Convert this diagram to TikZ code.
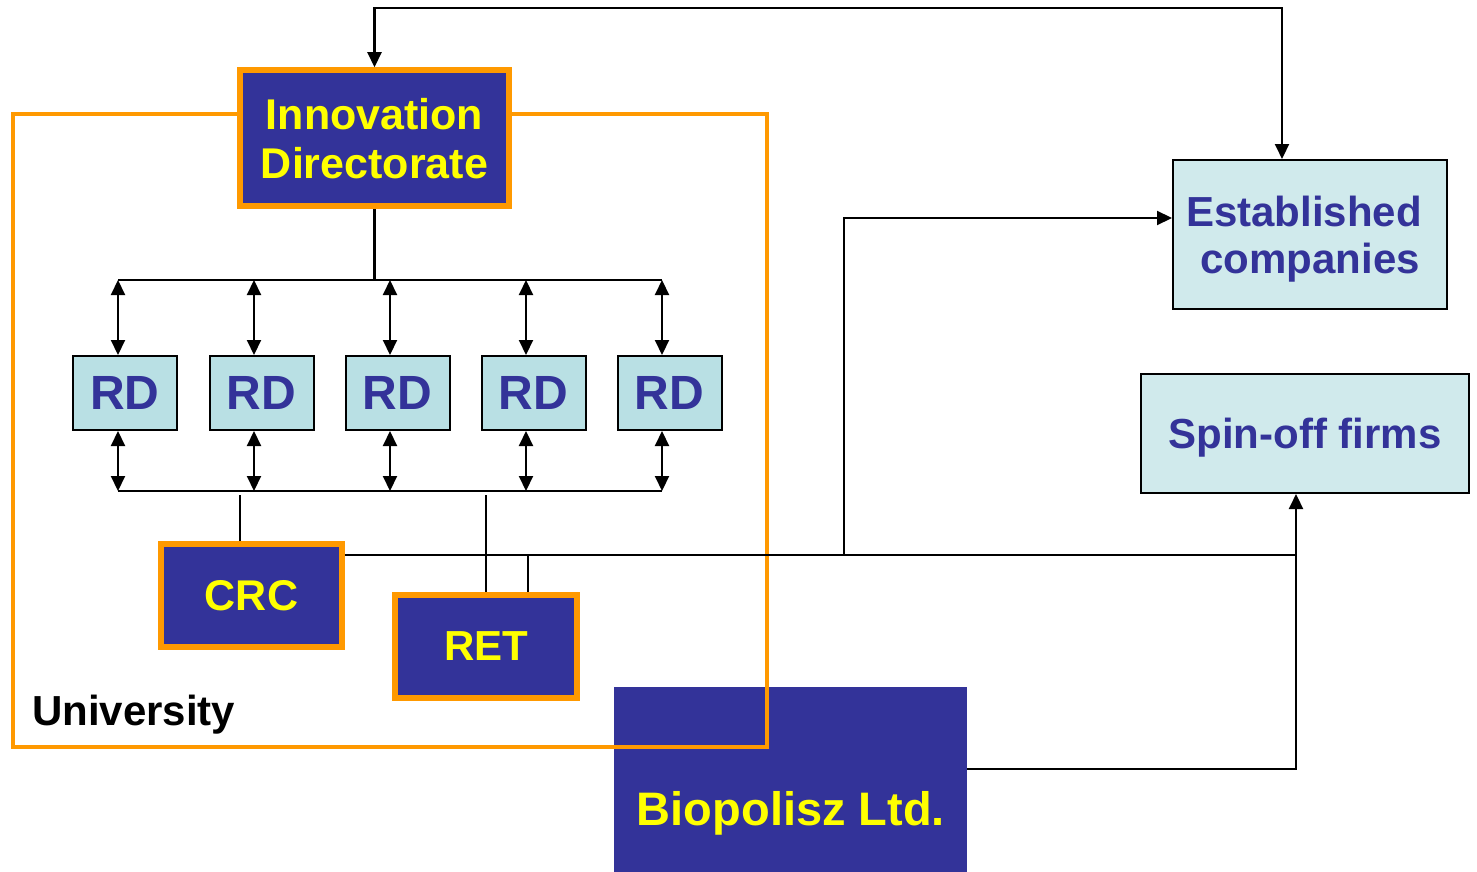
\documentclass[tikz,border=0pt]{standalone}
\usepackage{fontspec}
\setmainfont{Liberation Sans}
\usetikzlibrary{arrows.meta}
\definecolor{navy}{RGB}{51,51,153}
\definecolor{ora}{RGB}{255,153,0}
\definecolor{ylw}{RGB}{255,255,0}
\definecolor{rdfill}{RGB}{185,224,228}
\definecolor{cofill}{RGB}{208,234,236}
\begin{document}
\begin{tikzpicture}[x=1pt,y=-1pt,
  obox/.style={draw=ora, line width=5.5pt, fill=navy, text=ylw, align=center, inner sep=0pt, text depth=0pt},
  rdbox/.style={draw=black, line width=2pt, fill=rdfill, text=navy, font=\bfseries\fontsize{48}{52}\selectfont, minimum width=104pt, minimum height=74pt, inner sep=0pt},
  cobox/.style={draw=black, line width=2pt, fill=cofill, text=navy, font=\bfseries\fontsize{42}{47}\selectfont, align=center, inner sep=0pt, text depth=0pt},
  conn/.style={line width=2.1pt},
  arr/.style={conn, -{Triangle[length=15pt,width=14pt]}},
  darr/.style={conn, {Triangle[length=15pt,width=14pt]}-{Triangle[length=15pt,width=14pt]}},
]
\useasboundingbox (0,0) rectangle (1477,872);
% Biopolisz
\node[fill=navy, minimum width=353pt, minimum height=185pt, inner sep=0pt] (bio) at (790.5,779.5) {};
\node[anchor=base, text=ylw, font=\bfseries\fontsize{47}{52}\selectfont, inner sep=0pt] (biot) at (791,825) {Biopolisz Ltd.};
% University frame
\node[draw=ora, line width=4pt, minimum width=754pt, minimum height=632pt, inner sep=0pt] (univ) at (389.5,430.5) {};
\node[anchor=base west, font=\bfseries\fontsize{42}{48}\selectfont, inner sep=0pt] (unit) at (32,725) {University};
% orange boxes
\node[obox, font=\bfseries\fontsize{43}{49}\selectfont, minimum width=269pt, minimum height=136pt] (id) at (374.5,138) {Innovation\\Directorate};
\node[obox, font=\bfseries\fontsize{43}{49}\selectfont, minimum width=181pt, minimum height=103pt] (crc) at (251.5,595.5) {CRC};
\node[obox, font=\bfseries\fontsize{42}{49}\selectfont, minimum width=182pt, minimum height=103pt] (ret) at (486,646.5) {RET};
% RD boxes
\node[rdbox] (rd1) at (125,393) {RD};
\node[rdbox] (rd2) at (261.5,393) {RD};
\node[rdbox] (rd3) at (397.5,393) {RD};
\node[rdbox] (rd4) at (533.5,393) {RD};
\node[rdbox] (rd5) at (669.5,393) {RD};
% companies
\node[cobox, minimum width=274pt, minimum height=149pt] (est) at (1310,234.5) {Established\kern12pt\\companies};
\node[cobox, minimum width=328pt, minimum height=119pt] (spin) at (1305,433.5) {Spin-off firms};
% bus coordinates
\foreach \i/\x in {1/118,2/254,3/390,4/526,5/662} {
  \coordinate (t\i) at (\x,280);
  \coordinate (b\i) at (\x,491);
}
\draw[conn] (t1) -- (t5);
\draw[conn] (id.south) -- (id.south |- t1);
\foreach \i in {1,...,5} {
  \draw[darr] (t\i) -- (t\i |- rd\i.north);
  \draw[darr] (rd\i.south -| b\i) -- (b\i);
}
\draw[conn] (b1) -- (b5);
% CRC and RET links
\coordinate (c1) at (240,495);
\draw[conn] (c1) -- (c1 |- crc.north);
\coordinate (r1) at (486,495);
\draw[conn] (r1) -- (ret.north);
\coordinate (h) at (1296,555);
\draw[conn] (crc.east |- h) -- (h);
\coordinate (r2) at (528,555);
\draw[conn] (r2) -- (r2 |- ret.north);
\coordinate (v) at (844,555);
\coordinate (v2) at (844,218);
\draw[arr] (v) -- (v2) -- (v2 -| est.west);
\coordinate (sx) at (1296,769);
\draw[arr] (sx -| bio.east) -- (sx) -- (sx |- spin.south);
\coordinate (topr) at (1282,8);
\draw[darr] (id.north) |- (topr) -- (topr |- est.north);
\end{tikzpicture}
\end{document}
